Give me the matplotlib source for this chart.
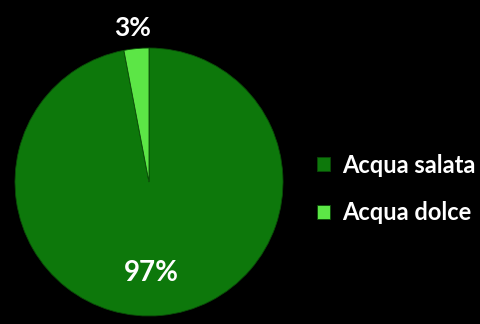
import matplotlib
matplotlib.use("Agg")
import matplotlib.pyplot as plt

labels = ["Acqua salata", "Acqua dolce"]
values = [97, 3]
colors = ["#0d780b", "#5ce646"]

plt.rcParams['font.family'] = ['Lato', 'DejaVu Sans']

fig = plt.figure(figsize=(4.8, 3.24), dpi=100, facecolor="black")
ax = fig.add_axes([15 / 480, 8 / 324, 268 / 480, 268 / 324])
ax.set_facecolor("black")

wedges, _ = ax.pie(values, colors=colors, startangle=90, counterclock=False,
                   wedgeprops=dict(edgecolor="#0a4a08", linewidth=0.6))
ax.set_xlim(-1, 1)
ax.set_ylim(-1, 1)
ax.set_aspect("equal")
ax.axis("off")

ax.text(-0.12, 1.15, f"{values[1]}%", color="white", fontsize=19,
        fontweight="bold", ha="center", va="center")
ax.text(0.02, -0.68, f"{values[0]}%", color="white", fontsize=20,
        fontweight="bold", ha="center", va="center")

fig.legend(wedges, labels, loc="center left",
           bbox_to_anchor=(296 / 480, 1 - 189 / 324), frameon=False,
           labelspacing=1.05, handlelength=0.55, handleheight=0.55,
           handletextpad=0.5, labelcolor="white",
           prop=dict(size=17, weight="bold"))

fig.savefig("out.png", dpi=100, facecolor="black")
